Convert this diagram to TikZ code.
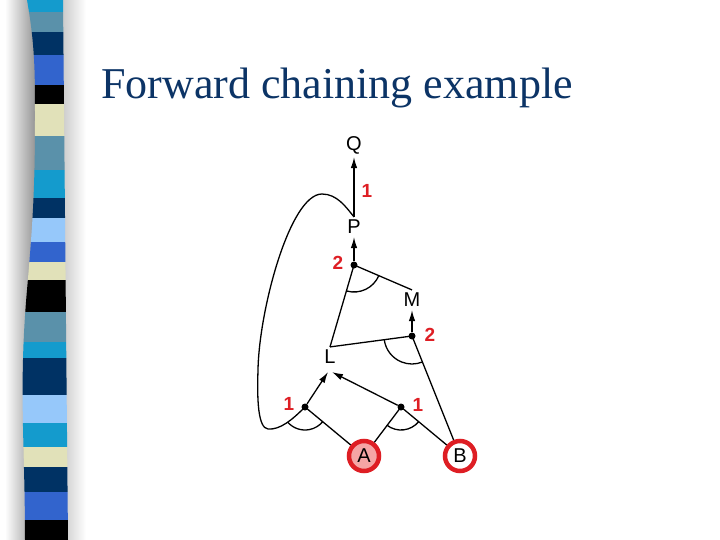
\documentclass[tikz,border=0pt]{standalone}
\usepackage{fontspec}
\setmainfont{Liberation Serif}
\newfontfamily\diagfont{Liberation Sans}
\usetikzlibrary{arrows.meta}
\definecolor{titleblue}{RGB}{12,52,102}
\definecolor{lblred}{RGB}{222,30,36}
\definecolor{sCyan}{RGB}{20,155,205}
\definecolor{sSteel}{RGB}{90,145,170}
\definecolor{sNavy}{RGB}{0,50,100}
\definecolor{sRoyal}{RGB}{50,100,205}
\definecolor{sBeige}{RGB}{225,225,185}
\definecolor{sLight}{RGB}{150,200,250}
\definecolor{apink}{RGB}{245,165,165}
\begin{document}
\begin{tikzpicture}[x=1pt,y=1pt,
  lbl/.style={text=lblred,font=\diagfont\bfseries\fontsize{19}{19}\selectfont,inner sep=0pt},
  prop/.style={font=\diagfont\fontsize{20}{20}\selectfont,inner sep=3pt},
  jdot/.style={circle,fill=black,inner sep=0pt,minimum size=7pt},
  fact/.style={circle,draw=lblred,line width=4.5pt,minimum size=30pt,inner sep=0pt,font=\diagfont\fontsize{20}{20}\selectfont},
  edge/.style={line width=1.3pt},
  arr/.style={line width=1.3pt,-{Latex[length=11pt,width=6.5pt]}},
]
\useasboundingbox (0,0) rectangle (720,-540);
\fill[white] (0,0) rectangle (720,-540);
% shadow of the stripe bar
\shade[left color=white,right color=gray!85] (5,0) rectangle (36,-540);
\shade[left color=gray!45,right color=white] (60,0) rectangle (86,-540);
% stripes
\begin{scope}
\clip (27,0) to[out=-80,in=90] (35,-120) to[out=-90,in=85] (27,-290) to[out=-95,in=90] (25,-540) -- (68,-540) -- (63,0) -- cycle;
\foreach \ya/\yb/\c in {0/12/sCyan, 12/32/sSteel, 32/55/sNavy, 55/85/sRoyal, 85/104/black, 104/136/sBeige, 136/170/sSteel, 170/198/sCyan, 198/218/sNavy, 218/242/sLight, 242/262/sRoyal, 262/280/sBeige, 280/312/black, 312/342/sSteel, 342/358/sCyan, 358/395/sNavy, 395/423/sLight, 423/447/sCyan, 447/467/sBeige, 467/492/sNavy, 492/520/sRoyal, 520/540/black}{
  \fill[\c] (20,-\ya) rectangle (70,-\yb);
}
\end{scope}
% title
\node[anchor=base west,inner sep=0pt,text=titleblue,font=\fontsize{44}{50}\selectfont] (title) at (101,-98.5) {Forward chaining example};
% propositions
\node[prop] (Q) at (354,-145) {Q};
\node[prop] (P) at (354,-227) {P};
\node[prop] (M) at (412,-300) {M};
\node[prop] (L) at (330,-357) {L};
\node[fact,fill=apink] (A) at (364,-456) {A};
\node[fact,fill=white] (B) at (460,-456) {B};
% junctions
\node[jdot] (dP) at (354,-265) {};
\node[jdot] (dM) at (412,-336) {};
\node[jdot] (d1) at (305,-407) {};
\node[jdot] (d2) at (401,-407) {};
% counts
\node[lbl] (l1) at (367,-191) {1};
\node[lbl] (l2) at (338,-263) {2};
\node[lbl] (l3) at (430,-335) {2};
\node[lbl] (l4) at (289,-404) {1};
\node[lbl] (l5) at (418,-405) {1};
% edges
\draw[arr] (P) -- (Q);
\draw[arr] (dP) -- (P);
\draw[edge] (dP.center) -- (L.north);
\draw[edge] (dP.center) -- (M.north);
\draw[arr] (dM) -- (M);
\draw[edge] (dM.center) -- (L.north);
\draw[edge] (dM.center) -- (B);
\draw[arr] (d1) -- ([xshift=-2pt,yshift=-5pt]L.south);
\draw[arr] (d2) -- ([xshift=2pt,yshift=-5pt]L.south);
\draw[edge] (d1.center) -- (A);
\draw[edge] (d2.center) -- (A);
\draw[edge] (d2.center) -- (B);
\draw[edge] (d1.center) .. controls (292,-420) and (280,-430) .. (268,-429)
  .. controls (258,-428) and (257,-400) .. (258,-370)
  .. controls (259,-310) and (290,-194) .. (322,-194)
  .. controls (337,-194) and (346,-207) .. (P.north);
% conjunction arcs
\draw[edge] ([shift={(254.5:27)}]dP.center) arc[start angle=254.5,end angle=336.7,radius=27];
\draw[edge] ([shift={(188:28)}]dM.center) arc[start angle=188,end angle=292,radius=28];
\draw[edge] ([shift={(221:23)}]d1.center) arc[start angle=221,end angle=321,radius=23];
\draw[edge] ([shift={(232:23)}]d2.center) arc[start angle=232,end angle=321,radius=23];
\end{tikzpicture}
\end{document}
